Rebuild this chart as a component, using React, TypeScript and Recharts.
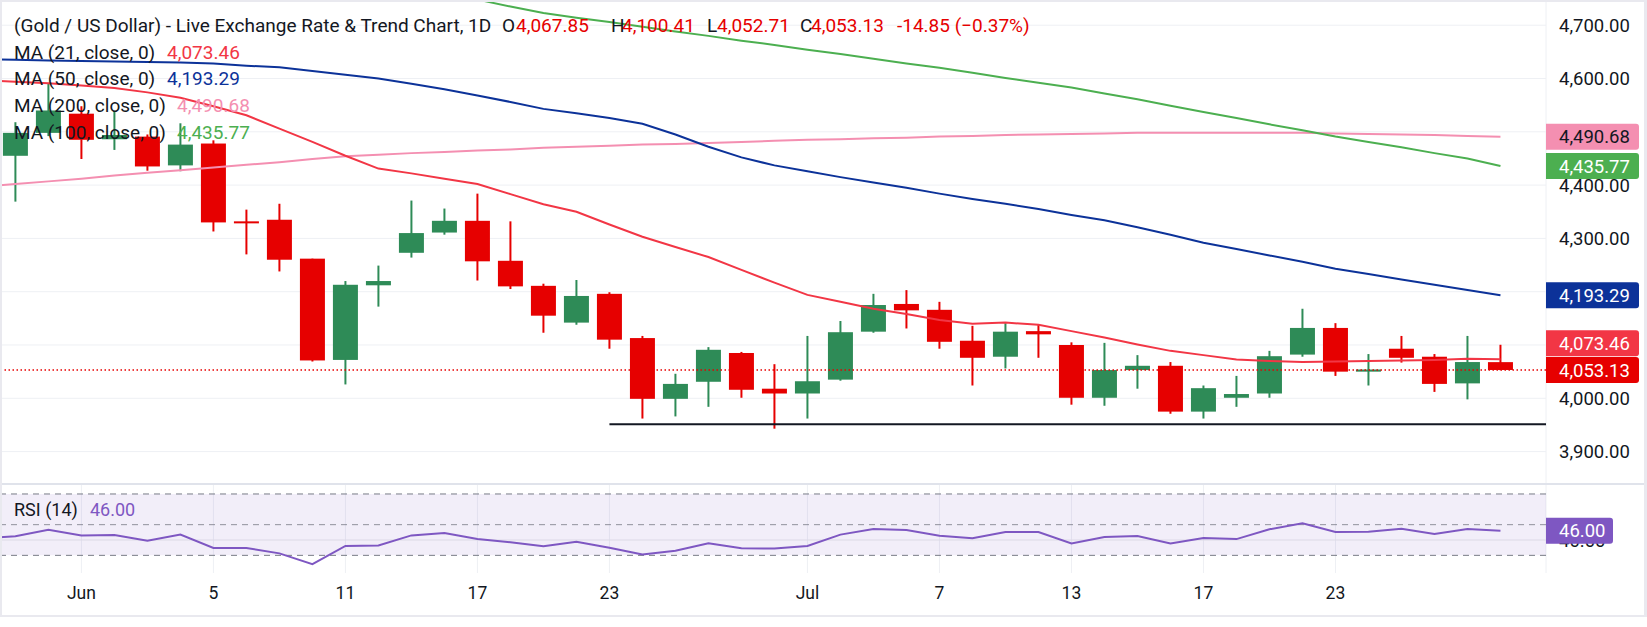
import React from 'react';
import {
  ComposedChart, Bar, Line, XAxis, YAxis, CartesianGrid,
  ReferenceLine, ReferenceArea,
} from 'recharts';

const FONT = 'Roboto, "Noto Sans", sans-serif';
const RED = '#e60000';
const GREEN = '#2e8b57';
const INK = '#131722';
const GRID = '#eef0f4';

// one slot before the first candle so the averages run in from the left edge
const slots = Array.from({ length: 47 }, (_, k) => k - 1);

const opens = [4455, 4498, 4534, 4486, 4491, 4437, 4478, 4332, 4335, 4262, 4072, 4212, 4273, 4311, 4333, 4258, 4211, 4142, 4196, 4113, 3999, 4031, 4085, 4018, 4009, 4035, 4125, 4177, 4166, 4108, 4078, 4126, 4100, 4001, 4053, 4061, 3975, 4001, 4009, 4082, 4132, 4050, 4093, 4078, 4028, 4067.85];
const highs = [4518, 4590, 4548, 4539, 4495, 4516, 4484, 4354, 4365, 4262, 4220, 4249, 4371, 4356, 4384, 4332, 4215, 4222, 4199, 4117, 4046, 4096, 4087, 4064, 4117, 4145, 4196, 4203, 4181, 4136, 4141, 4138, 4105, 4104, 4081, 4068, 4024, 4042, 4089, 4168, 4141, 4083, 4117, 4083, 4117, 4100.41];
const lows = [4369, 4492, 4449, 4466, 4427, 4426, 4313, 4270, 4238, 4069, 4026, 4172, 4264, 4307, 4221, 4205, 4123, 4138, 4093, 3962, 3966, 3984, 4001, 3943, 3962, 4033, 4123, 4131, 4093, 4024, 4056, 4076, 3988, 3986, 4018, 3971, 3962, 3984, 4001, 4078, 4042, 4024, 4067, 4012, 3998, 4052.71];
const closes = [4498, 4540, 4485, 4494, 4435, 4476, 4330, 4330, 4260, 4071, 4213, 4220, 4310, 4333, 4257, 4210, 4155, 4192, 4110, 3999, 4027, 4091, 4016, 4009, 4032, 4124, 4175, 4165, 4106, 4076, 4125, 4120, 4001, 4053, 4061, 3975, 4019, 4008, 4079, 4132, 4050, 4054, 4076, 4027, 4068, 4053.13];

const ma21 = [4597, 4594, 4591, 4587, 4582, 4574, 4564, 4548, 4531, 4506, 4481, 4455, 4431, 4422, 4412, 4402, 4383, 4364, 4350, 4326, 4303, 4284, 4265, 4241, 4217, 4194, 4181, 4168, 4158, 4147, 4140, 4142, 4138, 4126, 4114, 4101, 4089, 4081, 4073, 4070, 4068, 4069, 4070, 4071, 4072, 4074, 4073.46];
const ma50 = [4636, 4635, 4634, 4633, 4632, 4631, 4630, 4628, 4624, 4621, 4614, 4607, 4600, 4590, 4580, 4568, 4556, 4543, 4535, 4526, 4515, 4495, 4472, 4452, 4437, 4426, 4415, 4405, 4395, 4384, 4374, 4365, 4355, 4344, 4334, 4321, 4307, 4292, 4280, 4268, 4256, 4243, 4233, 4223, 4213, 4203, 4193.29];
const ma200 = [4397, 4402, 4407, 4412, 4418, 4423, 4428, 4433, 4438, 4443, 4449, 4454, 4457, 4460, 4462, 4465, 4467, 4470, 4472, 4474, 4476, 4477, 4479, 4481, 4483, 4485, 4486, 4488, 4489, 4491, 4492, 4494, 4495, 4496, 4497, 4498, 4498, 4498, 4498, 4498, 4498, 4497, 4496, 4495, 4494, 4492, 4490.68];
const ma100 = [null, null, null, null, null, null, null, null, null, null, null, null, null, 4772, 4760, 4748, 4735, 4723, 4714, 4706, 4697, 4688, 4680, 4671, 4663, 4654, 4646, 4637, 4628, 4620, 4611, 4601, 4592, 4583, 4572, 4561, 4549, 4537, 4526, 4514, 4503, 4491, 4481, 4471, 4460, 4450, 4435.77];
const rsi = [41.0, 42.4, 46.7, 43.0, 43.2, 39.5, 43.5, 34.8, 34.8, 31.3, 24.3, 36.1, 36.5, 43.0, 44.6, 40.6, 38.5, 35.9, 38.9, 35.0, 30.6, 33.0, 37.8, 34.6, 34.4, 36.1, 43.5, 47.2, 46.5, 42.8, 41.1, 45.2, 45.2, 37.8, 41.9, 42.6, 37.8, 41.3, 40.6, 47.0, 50.9, 45.2, 45.4, 47.4, 43.9, 47.2, 46.0];

const tickSlots = [2, 6, 10, 14, 18, 24, 28, 32, 36, 40];
const tickTexts = ['Jun', '5', '11', '17', '23', 'Jul', '7', '13', '17', '23'];
const priceTicks = [3900, 4000, 4100, 4200, 4300, 4400, 4500, 4600, 4700];

const X_MIN = -0.467;
const X_MAX = 46.38;
const PRICE_DOMAIN: [number, number] = [3839.2, 4747.3];
const RSI_DOMAIN: [number, number] = [18.5, 76.5];
const SUPPORT = 3951.5;

const rows = slots.map((i, k) => {
  const c = i >= 0 ? i : -1;
  return {
    i,
    open: c >= 0 ? opens[c] : null,
    high: c >= 0 ? highs[c] : null,
    low: c >= 0 ? lows[c] : null,
    close: c >= 0 ? closes[c] : null,
    range: c >= 0 ? [lows[c], highs[c]] : null,
    ma21: ma21[k],
    ma50: ma50[k],
    ma200: ma200[k],
    ma100: ma100[k],
    rsi: rsi[k],
  };
});

const fmt = (v: number) => v.toLocaleString('en-US', { minimumFractionDigits: 2, maximumFractionDigits: 2 });

const Candle = (props: any) => {
  const { x, y, width, height, payload } = props;
  if (!payload || payload.open == null) return null;
  const { open, close, high, low } = payload;
  const color = close >= open ? GREEN : RED;
  const k = high === low ? 0 : Math.abs(height) / (high - low);
  const top = Math.min(y, y + height);
  const bodyTop = top + (high - Math.max(open, close)) * k;
  const bodyH = Math.max(Math.abs(open - close) * k, 2);
  const cx = x + width / 2;
  return (
    <g>
      <line x1={cx} x2={cx} y1={top} y2={top + Math.abs(height)} stroke={color} strokeWidth={2} />
      <rect x={x} y={bodyTop} width={width} height={bodyH} fill={color} />
    </g>
  );
};

const tagPath = (x: number, y: number, w: number, h: number, r: number) =>
  `M${x},${y} H${x + w - r} Q${x + w},${y} ${x + w},${y + r} V${y + h - r} Q${x + w},${y + h} ${x + w - r},${y + h} H${x} Z`;

const PriceTag = (props: any) => {
  const { viewBox, text, bg, fg, shift = 0, w = 93 } = props;
  if (!viewBox) return null;
  const left = viewBox.x + viewBox.width;
  const cy = viewBox.y + shift;
  return (
    <g>
      <path d={tagPath(left, cy - 13, w, 26, 3)} fill={bg} />
      <text x={left + 13} y={cy} dy="0.36em" fill={fg} fontSize={18.5} fontFamily={FONT}>{text}</text>
    </g>
  );
};

const legendRow = (top: number, children: React.ReactNode) => (
  <div style={{ position: 'absolute', left: 0, top: top - 13, height: 26, lineHeight: '26px', width: 1200 }}>{children}</div>
);

const at = (left: number, color: string, text: string) => (
  <span style={{ position: 'absolute', left, color, whiteSpace: 'pre' }}>{text}</span>
);

const layer: React.CSSProperties = { position: 'absolute', left: 0 };

export default function App() {
  return (
    <div style={{ position: 'relative', width: 1647, height: 627, background: '#fff', fontFamily: FONT, overflow: 'hidden' }}>
      <style>{'body{margin:0}'}</style>

      {/* price pane */}
      <div style={{ ...layer, top: 0 }}>
        <ComposedChart width={1647} height={484} data={rows} margin={{ top: 0, right: 0, bottom: 0, left: 0 }}>
          <XAxis
            dataKey="i"
            type="number"
            domain={[X_MIN, X_MAX]}
            allowDataOverflow
            ticks={tickSlots}
            interval={0}
            height={0}
            tick={false}
            axisLine={false}
            tickLine={false}
          />
          <YAxis
            orientation="right"
            width={101}
            domain={PRICE_DOMAIN}
            allowDataOverflow
            ticks={priceTicks}
            interval={0}
            tickFormatter={fmt}
            axisLine={false}
            tickLine={false}
            tickSize={0}
            tickMargin={13}
            tick={{ fill: INK, fontSize: 18.5, fontFamily: FONT }}
          />
          <CartesianGrid stroke={GRID} />
          <Bar dataKey="range" barSize={25} shape={<Candle />} isAnimationActive={false} />
          <Line dataKey="ma200" stroke="#f48fb1" strokeWidth={2} dot={false} activeDot={false} isAnimationActive={false} />
          <Line dataKey="ma100" stroke="#4caf50" strokeWidth={2} dot={false} activeDot={false} isAnimationActive={false} />
          <Line dataKey="ma50" stroke="#0c3299" strokeWidth={2} dot={false} activeDot={false} isAnimationActive={false} />
          <Line dataKey="ma21" stroke="#f23645" strokeWidth={2} dot={false} activeDot={false} isAnimationActive={false} />
          <ReferenceLine segment={[{ x: 18, y: SUPPORT }, { x: X_MAX, y: SUPPORT }]} stroke={INK} strokeWidth={2} />
          <ReferenceLine y={4053.13} stroke={RED} strokeWidth={1.5} strokeDasharray="1.5 2.5" />
        </ComposedChart>
      </div>

      {/* price tags above the axis text */}
      <div style={{ ...layer, top: 0 }}>
        <ComposedChart width={1647} height={484} data={rows} margin={{ top: 0, right: 0, bottom: 0, left: 0 }}>
          <XAxis dataKey="i" type="number" domain={[X_MIN, X_MAX]} allowDataOverflow height={0} tick={false} axisLine={false} tickLine={false} />
          <YAxis orientation="right" width={101} domain={PRICE_DOMAIN} allowDataOverflow tick={false} axisLine={false} tickLine={false} />
          <ReferenceLine y={4053.13} stroke="none" label={<PriceTag text="4,053.13" bg={RED} fg="#fff" />} />
          <ReferenceLine y={4073.46} stroke="none" label={<PriceTag text="4,073.46" bg="#f23645" fg="#fff" shift={-16} />} />
          <ReferenceLine y={4193.29} stroke="none" label={<PriceTag text="4,193.29" bg="#0c3299" fg="#fff" />} />
          <ReferenceLine y={4435.77} stroke="none" label={<PriceTag text="4,435.77" bg="#4caf50" fg="#fff" />} />
          <ReferenceLine y={4490.68} stroke="none" label={<PriceTag text="4,490.68" bg="#f48fb1" fg={INK} />} />
        </ComposedChart>
      </div>

      {/* RSI pane */}
      <div style={{ ...layer, top: 484 }}>
        <ComposedChart width={1647} height={131} data={rows} margin={{ top: 0, right: 0, bottom: 0, left: 0 }}>
          <XAxis
            dataKey="i"
            type="number"
            domain={[X_MIN, X_MAX]}
            allowDataOverflow
            ticks={tickSlots}
            interval={0}
            tickFormatter={(v: number) => tickTexts[tickSlots.indexOf(v)] ?? ''}
            height={42}
            axisLine={false}
            tickLine={false}
            tickSize={0}
            tickMargin={14}
            tick={{ fill: INK, fontSize: 17.5, fontFamily: FONT }}
          />
          <YAxis
            orientation="right"
            width={101}
            domain={RSI_DOMAIN}
            allowDataOverflow
            ticks={[40]}
            interval={0}
            tickFormatter={fmt}
            axisLine={false}
            tickLine={false}
            tickSize={0}
            tickMargin={13}
            tick={{ fill: INK, fontSize: 18.5, fontFamily: FONT }}
          />
          <ReferenceArea y1={30} y2={70} fill="#7e57c2" fillOpacity={0.1} stroke="none" />
          <CartesianGrid stroke={GRID} horizontal={false} />
          <ReferenceLine y={40} stroke="#dcd9e6" />
          <ReferenceLine y={70} stroke="#787b86" strokeDasharray="6 5" />
          <ReferenceLine y={50} stroke="#787b86" strokeDasharray="6 5" strokeOpacity={0.8} />
          <ReferenceLine y={30} stroke="#787b86" strokeDasharray="6 5" />
          <Line dataKey="rsi" stroke="#7e57c2" strokeWidth={2} dot={false} activeDot={false} isAnimationActive={false} />
        </ComposedChart>
      </div>

      {/* RSI tag above the axis text */}
      <div style={{ ...layer, top: 484 }}>
        <ComposedChart width={1647} height={131} data={rows} margin={{ top: 0, right: 0, bottom: 0, left: 0 }}>
          <XAxis dataKey="i" type="number" domain={[X_MIN, X_MAX]} allowDataOverflow height={42} tick={false} axisLine={false} tickLine={false} />
          <YAxis orientation="right" width={101} domain={RSI_DOMAIN} allowDataOverflow tick={false} axisLine={false} tickLine={false} />
          <ReferenceLine y={46} stroke="none" label={<PriceTag text="46.00" bg="#7e57c2" fg="#fff" w={67} />} />
        </ComposedChart>
      </div>

      {/* legend */}
      <div style={{ position: 'absolute', left: 0, top: 0, fontSize: 19, color: INK }}>
        {legendRow(26, <>
          {at(14, INK, '(Gold / US Dollar) - Live Exchange Rate & Trend Chart, 1D')}
          {at(502, INK, 'O')}{at(516, RED, '4,067.85')}
          {at(611, INK, 'H')}{at(622, RED, '4,100.41')}
          {at(707, INK, 'L')}{at(717, RED, '4,052.71')}
          {at(800, INK, 'C')}{at(811, RED, '4,053.13')}
          {at(897, RED, '-14.85 (\u22120.37%)')}
        </>)}
        {legendRow(52.7, <>{at(14, INK, 'MA (21, close, 0)')}{at(167, '#f23645', '4,073.46')}</>)}
        {legendRow(79.3, <>{at(14, INK, 'MA (50, close, 0)')}{at(167, '#0c3299', '4,193.29')}</>)}
        {legendRow(106, <>{at(14, INK, 'MA (200, close, 0)')}{at(177, '#f48fb1', '4,490.68')}</>)}
        {legendRow(132.7, <>{at(14, INK, 'MA (100, close, 0)')}{at(177, '#4caf50', '4,435.77')}</>)}
        <div style={{ position: 'absolute', left: 0, top: 497, height: 26, lineHeight: '26px', width: 300, fontSize: 18 }}>
          {at(14, INK, 'RSI (14)')}{at(90, '#7e57c2', '46.00')}
        </div>
      </div>

      {/* frame and pane separator */}
      <div style={{ position: 'absolute', left: 0, top: 483, width: 1647, height: 2, background: '#e0e3eb' }} />
      <div style={{ position: 'absolute', left: 0, top: 0, width: 1647, height: 2, background: '#e9e9ef' }} />
      <div style={{ position: 'absolute', left: 0, top: 0, width: 2, height: 617, background: '#e9e9ef' }} />
      <div style={{ position: 'absolute', left: 1644, top: 0, width: 3, height: 617, background: '#e9e9ef' }} />
      <div style={{ position: 'absolute', left: 0, top: 615, width: 1647, height: 2, background: '#e9e9ef' }} />
    </div>
  );
}
